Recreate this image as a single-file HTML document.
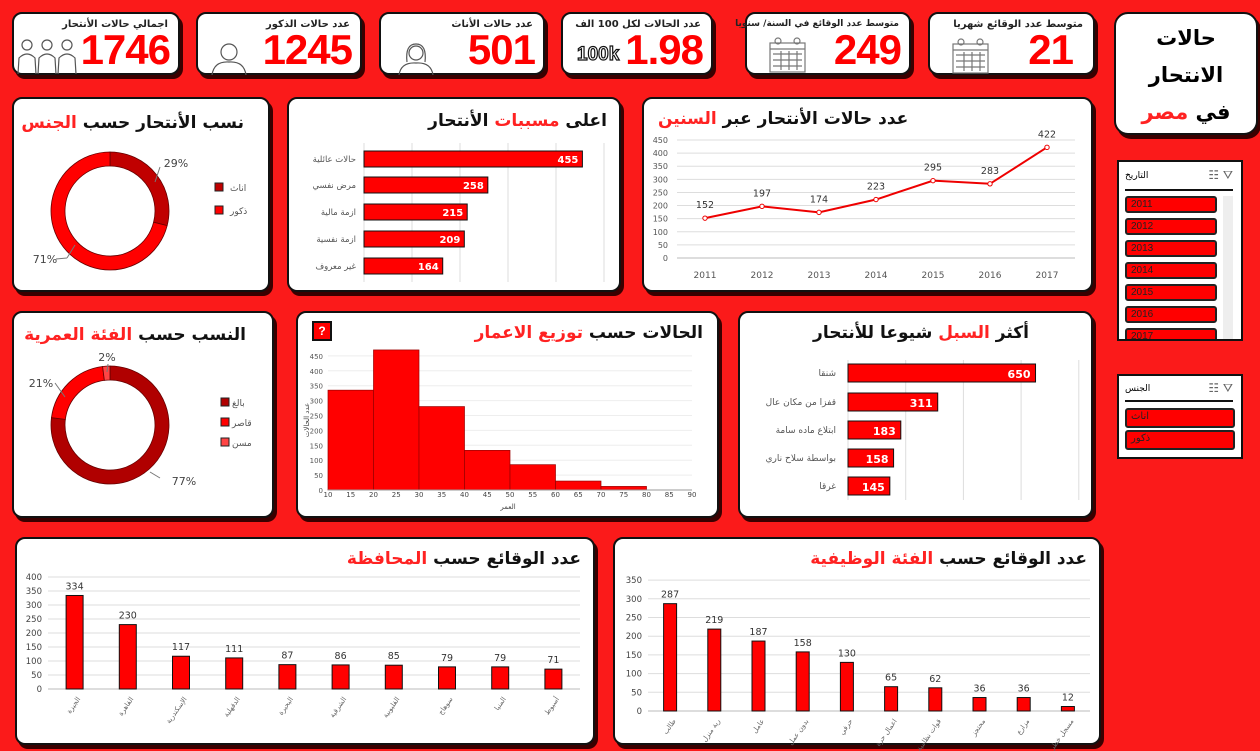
<!DOCTYPE html>
<html><head><meta charset="utf-8">
<style>
body{margin:0;width:1260px;height:751px;background:#fb1a1a;position:relative;overflow:hidden;font-family:"DejaVu Sans","Liberation Sans",sans-serif;}
.p{position:absolute;background:#fff;border:2px solid #111;border-radius:10px;box-shadow:3px 4px 0 #3a0000;box-sizing:border-box;}
.kt{position:absolute;top:5px;right:10px;font-size:10px;font-weight:bold;color:#222;direction:rtl;white-space:nowrap;}
.kn{position:absolute;right:8px;bottom:0px;font-family:"Liberation Sans",sans-serif;font-weight:bold;font-size:42px;color:#f00;letter-spacing:-1px;line-height:46px;}
.ttl{position:absolute;font-weight:bold;font-size:17px;color:#111;direction:rtl;white-space:nowrap;}
.r{color:#f22;}
.sl{position:absolute;background:#fff;border:2px solid #111;box-sizing:border-box;}
.si{position:absolute;left:6px;width:92px;height:17px;background:#f00;border:2px solid #222;border-radius:3px;box-sizing:border-box;font-size:10px;font-family:"Liberation Sans","DejaVu Sans",sans-serif;color:#222;padding-left:4px;line-height:14px;}
svg text{font-family:"DejaVu Sans","Liberation Sans",sans-serif;}
.ic{position:absolute;}
</style></head><body>

<div class="p" style="left:12px;top:12px;width:168px;height:63px"><div class="kt">اجمالي حالات الأنتحار</div><div class="kn">1746</div>
<svg class="ic" style="left:2px;top:24px" width="66" height="36" fill="none" stroke="#555" stroke-width="1.2"><circle cx="11" cy="7" r="5"/><path d="M2 36 L3 20 Q11 12 19 20 L20 36"/><circle cx="31" cy="7" r="5"/><path d="M22 36 L23 20 Q31 12 39 20 L40 36"/><circle cx="51" cy="7" r="5"/><path d="M42 36 L43 20 Q51 12 59 20 L60 36"/></svg></div>
<div class="p" style="left:196px;top:12px;width:166px;height:63px"><div class="kt">عدد حالات الذكور</div><div class="kn">1245</div>
<svg class="ic" style="left:12px;top:28px" width="40" height="33" fill="none" stroke="#555" stroke-width="1.2"><circle cx="19" cy="10" r="8"/><path d="M2 33 Q4 19 19 20 Q34 19 36 33"/></svg></div>
<div class="p" style="left:379px;top:12px;width:166px;height:63px"><div class="kt">عدد حالات الأناث</div><div class="kn">501</div>
<svg class="ic" style="left:16px;top:28px" width="40" height="33" fill="none" stroke="#555" stroke-width="1.2"><path d="M10 20 Q8 2 19 2 Q30 2 28 20"/><circle cx="19" cy="11" r="7"/><path d="M2 33 Q4 20 19 21 Q34 20 36 33"/></svg></div>
<div class="p" style="left:561px;top:12px;width:152px;height:63px"><div class="kt">عدد الحالات لكل 100 الف</div><div class="kn">1.98</div><div style="position:absolute;left:14px;top:30px;font:bold 19px 'Liberation Sans',sans-serif;color:#fff;-webkit-text-stroke:1.2px #111">100k</div></div>
<div class="p" style="left:745px;top:12px;width:166px;height:63px"><div class="kt" style="font-size:9px">متوسط عدد الوقائع في السنة/ سنويا</div><div class="kn">249</div>
<svg class="ic" style="left:22px;top:23px" width="38" height="36" fill="none" stroke="#777" stroke-width="1.2"><rect x="1" y="6" width="35" height="29"/><path d="M1 12 H36 M4 17 H33 M4 23 H33 M4 29 H33 M12 14 V33 M20 14 V33 M28 14 V33"/><circle cx="9" cy="4" r="3"/><circle cx="28" cy="4" r="3"/></svg></div>
<div class="p" style="left:928px;top:12px;width:167px;height:63px"><div class="kt">متوسط عدد الوقائع شهريا</div><div class="kn" style="right:20px">21</div>
<svg class="ic" style="left:22px;top:24px" width="38" height="36" fill="none" stroke="#777" stroke-width="1.2"><rect x="1" y="6" width="35" height="29"/><path d="M1 12 H36 M4 17 H33 M4 23 H33 M4 29 H33 M12 14 V33 M20 14 V33 M28 14 V33"/><circle cx="9" cy="4" r="3"/><circle cx="28" cy="4" r="3"/></svg></div>
<div class="p" style="left:1114px;top:12px;width:144px;height:123px;border-radius:14px;text-align:center;font-weight:bold;font-size:21px;line-height:37px;padding-top:6px;direction:rtl">حالات<br>الانتحار<br>في <span class="r">مصر</span></div>

<div class="p" style="left:12px;top:97px;width:258px;height:195px"><div class="ttl" style="right:24px;top:14px">نسب الأنتحار حسب <span class="r">الجنس</span></div></div>
<div class="p" style="left:287px;top:97px;width:334px;height:195px"><div class="ttl" style="right:12px;top:12px">اعلى <span class="r">مسببات</span> الأنتحار</div></div>
<div class="p" style="left:642px;top:97px;width:451px;height:195px"><div class="ttl" style="left:14px;top:10px">عدد حالات الأنتحار عبر <span class="r">السنين</span></div></div>
<div class="p" style="left:12px;top:311px;width:262px;height:207px"><div class="ttl" style="right:26px;top:12px">النسب حسب <span class="r">الفئة العمرية</span></div></div>
<div class="p" style="left:296px;top:311px;width:423px;height:207px"><div class="ttl" style="right:14px;top:10px">الحالات حسب <span class="r">توزيع الاعمار</span></div><div style="position:absolute;left:14px;top:8px;width:20px;height:20px;background:#f00;border:2px solid #111;box-sizing:border-box;color:#fff;font:bold 12px 'Liberation Sans';text-align:center;line-height:16px">?</div></div>
<div class="p" style="left:738px;top:311px;width:355px;height:207px"><div class="ttl" style="right:62px;top:10px">أكثر <span class="r">السبل</span> شيوعا للأنتحار</div></div>
<div class="p" style="left:15px;top:537px;width:580px;height:208px"><div class="ttl" style="right:12px;top:10px">عدد الوقائع حسب <span class="r">المحافظة</span></div></div>
<div class="p" style="left:613px;top:537px;width:488px;height:208px"><div class="ttl" style="right:12px;top:10px">عدد الوقائع حسب <span class="r">الفئة الوظيفية</span></div></div>

<div class="sl" style="left:1117px;top:160px;width:126px;height:181px;overflow:hidden">
<div style="position:absolute;left:6px;top:9px;font-size:9px">التاريخ</div>
<div style="position:absolute;right:8px;top:6px;font-size:12px;color:#666">☷ ⛛</div>
<div style="position:absolute;left:6px;right:8px;top:27px;border-top:2px solid #111"></div>
<div style="position:absolute;left:104px;top:34px;width:10px;height:145px;background:#eee"></div>
<div class="si" style="top:34px">2011</div>
<div class="si" style="top:56px">2012</div>
<div class="si" style="top:78px">2013</div>
<div class="si" style="top:100px">2014</div>
<div class="si" style="top:122px">2015</div>
<div class="si" style="top:144px">2016</div>
<div class="si" style="top:166px">2017</div>
</div>
<div class="sl" style="left:1117px;top:374px;width:126px;height:85px">
<div style="position:absolute;left:6px;top:8px;font-size:9px">الجنس</div>
<div style="position:absolute;right:8px;top:5px;font-size:12px;color:#666">☷ ⛛</div>
<div style="position:absolute;left:6px;right:8px;top:24px;border-top:2px solid #111"></div>
<div class="si" style="top:32px;width:110px;height:20px">اناث</div>
<div class="si" style="top:54px;width:110px;height:20px">ذكور</div>
</div>

<svg id="c" width="1260" height="751" style="position:absolute;left:0;top:0;pointer-events:none"></svg>

<script>
const causeLabels=["حالات عائلية","مرض نفسي","ازمة مالية","ازمة نفسية","غير معروف"];
const causeValues=[455,258,215,209,164];
const years=["2011","2012","2013","2014","2015","2016","2017"];
const yearValues=[152,197,174,223,295,283,422];
const genderLabels=["اناث","ذكور"];
const genderValues=[29,71];
const ageLabels=["بالغ","قاصر","مسن"];
const ageValues=[77,21,2];
const histEdges=[10,20,30,40,50,60,70,80];
const histValues=[335,470,280,133,85,30,12];
const methodLabels=["شنقا","قفزا من مكان عال","ابتلاع ماده سامة","بواسطة سلاح ناري","غرقا"];
const methodValues=[650,311,183,158,145];
const govLabels=["الجيزة","القاهرة","الإسكندرية","الدقهلية","البحيرة","الشرقية","القليوبية","سوهاج","المنيا","أسيوط"];
const govValues=[334,230,117,111,87,86,85,79,79,71];
const jobLabels=["طالب","ربة منزل","عامل","بدون عمل","حرفي","اعمال حرة","قوات نظامية","محتجز","مزارع","مسجل خطر"];
const jobValues=[287,219,187,158,130,65,62,36,36,12];

const S=document.getElementById('c');const NS='http://www.w3.org/2000/svg';
function el(t,a,txt){const e=document.createElementNS(NS,t);for(const k in a)e.setAttribute(k,a[k]);if(txt!==undefined)e.textContent=txt;S.appendChild(e);return e;}
function line(x1,y1,x2,y2,c,w){return el('line',{x1,y1,x2,y2,stroke:c||'#ddd','stroke-width':w||1});}
function text(x,y,s,sz,anc,fill,extra){const e=el('text',Object.assign({x,y,'font-size':sz,'text-anchor':anc||'middle',fill:fill||'#444'},extra||{}),s);return e;}

(function(){const x0=364,sc=48/100,rows=[159,185,212,239,266];
for(let g=0;g<=5;g++)line(x0+g*48,143,x0+g*48,282);
causeValues.forEach((v,i)=>{const r=el('rect',{x:x0,y:rows[i]-8,width:v*sc,height:16,fill:'#f00',stroke:'#111','stroke-width':1});

text(x0+v*sc-4,rows[i]+4,v,10,'end','#fff',{'font-weight':'bold'});text(x0-8,rows[i]+3,causeLabels[i],8.5,'end','#555');});})();

(function(){const yv=v=>258-v*118/450,xv=i=>705+i*57;
for(let t=0;t<=450;t+=50){line(677,yv(t),1075,yv(t),'#ddd');text(668,yv(t)+3,t,8,'end','#555');}
line(677,258,1075,258,'#bbb');
years.forEach((y,i)=>text(xv(i),278,y,9,'middle','#555'));
el('polyline',{points:yearValues.map((v,i)=>xv(i)+','+yv(v)).join(' '),fill:'none',stroke:'#e00','stroke-width':2});
yearValues.forEach((v,i)=>{const c=el('circle',{cx:xv(i),cy:yv(v),r:2.2,fill:'#fff',stroke:'#e00'});

text(xv(i),yv(v)-10,v,9.5,'middle','#333');});})();

function donut(cx,cy,R,r,vals,cols,name){let a=-Math.PI/2;const tot=vals.reduce((s,v)=>s+v,0);
vals.forEach((v,i)=>{const b=a+v/tot*2*Math.PI,L=(b-a)>Math.PI?1:0;
const p=`M${cx+R*Math.cos(a)},${cy+R*Math.sin(a)} A${R},${R} 0 ${L} 1 ${cx+R*Math.cos(b)},${cy+R*Math.sin(b)} L${cx+r*Math.cos(b)},${cy+r*Math.sin(b)} A${r},${r} 0 ${L} 0 ${cx+r*Math.cos(a)},${cy+r*Math.sin(a)}Z`;
const e=el('path',{d:p,fill:cols[i],stroke:'#600','stroke-width':0.8});
a=b;});}
(function(){donut(110,211,59,45,genderValues,['#c00000','#f00'],'gender-slice');
text(176,167,genderValues[0]+'%',11,'middle','#444');text(45,263,genderValues[1]+'%',11,'middle','#444');
line(160,167,155,182,'#777');line(56,259,67,258,'#777');line(67,258,75,245,'#777');
genderLabels.forEach((l,i)=>{el('rect',{x:215,y:183+i*23,width:8,height:8,fill:['#c00000','#f00'][i],stroke:'#222'});text(230,191+i*23,l,9,'start','#555');});})();
(function(){donut(110,425,59,45,ageValues,['#b00000','#f00','#f44'],'age-slice');
text(107,361,ageValues[2]+'%',11,'middle','#444');text(41,387,ageValues[1]+'%',11,'middle','#444');text(184,485,ageValues[0]+'%',11,'middle','#444');
line(55,383,65,397,'#777');line(160,478,150,472,'#777');line(108,364,107,372,'#777');
const cols=['#b00000','#f00','#f44'];ageLabels.forEach((l,i)=>{el('rect',{x:221,y:398+i*20,width:8,height:8,fill:cols[i],stroke:'#222'});text(232,406+i*20,l,9,'start','#555');});})();

(function(){const xv=v=>328+(v-10)*4.55,yv=v=>490-v*0.298;
for(let t=0;t<=450;t+=50){line(328,yv(t),692,yv(t),'#eee');text(323,yv(t)+3,t,7,'end','#555');}
for(let t=10;t<=90;t+=5)text(xv(t),497,t,7,'middle','#444');
histValues.forEach((v,i)=>{const r=el('rect',{x:xv(histEdges[i]),y:yv(v),width:xv(histEdges[i+1])-xv(histEdges[i]),height:v*0.298,fill:'#f00',stroke:'#900','stroke-width':0.7});
});
line(328,490,692,490,'#999');
text(508,509,'العمر',7,'middle','#444');
text(309,420,'عدد الحالات',7,'middle','#444',{transform:'rotate(-90 309 420)'});})();

(function(){const x0=848,sc=57.7/200,rows=[373,402,430,458,486];
for(let g=0;g<=4;g++)line(x0+g*57.7,360,x0+g*57.7,500);
methodValues.forEach((v,i)=>{const r=el('rect',{x:x0,y:rows[i]-9,width:v*sc,height:18,fill:'#f00',stroke:'#111','stroke-width':1});

text(x0+v*sc-5,rows[i]+5,v,11,'end','#fff',{'font-weight':'bold'});text(x0-12,rows[i]+3,methodLabels[i],9,'end','#555');});})();

function cols(vals,labels,x0,x1,y0,pxPer,max,step,bw,name){const n=vals.length,st=(x1-x0)/n;
for(let t=0;t<=max;t+=step){line(x0,y0-t*pxPer,x1,y0-t*pxPer,'#ddd');text(x0-6,y0-t*pxPer+3,t,8.5,'end','#444');}
line(x0,y0,x1,y0,'#bbb');
vals.forEach((v,i)=>{const cx=x0+st*(i+0.5);const r=el('rect',{x:cx-bw/2,y:y0-v*pxPer,width:bw,height:v*pxPer,fill:'#f00',stroke:'#111','stroke-width':1});

text(cx,y0-v*pxPer-6,v,9.5,'middle','#333');
text(cx+6,y0+10,labels[i],7,'end','#666',{transform:`rotate(-55 ${cx+6} ${y0+10})`});});}
cols(govValues,govLabels,48,580,689,0.28,400,50,17,'governorate-bar');
cols(jobValues,jobLabels,648,1090,711,0.374,350,50,13,'job-bar');
</script>
</body></html>
